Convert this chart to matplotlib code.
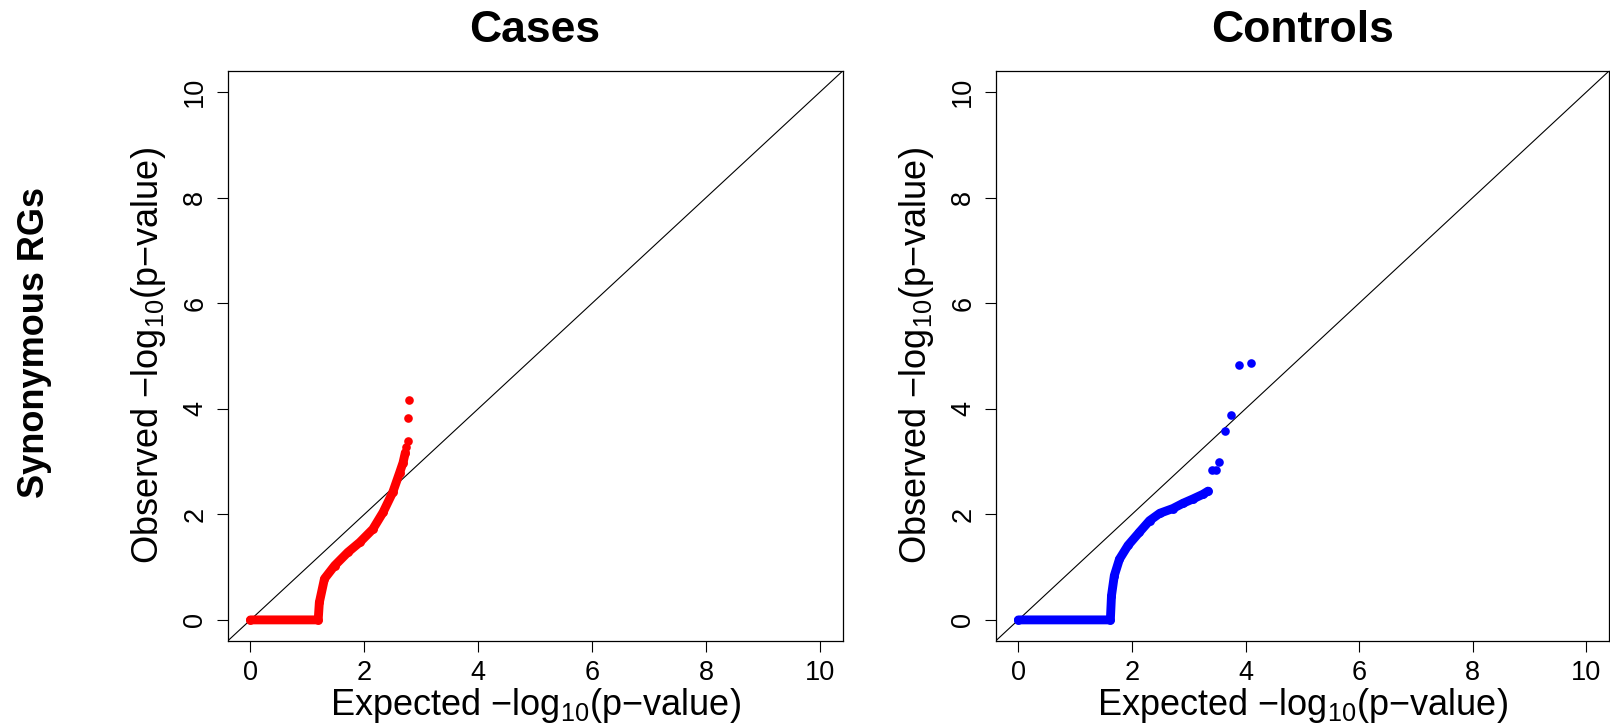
import matplotlib
matplotlib.use("Agg")
import matplotlib.pyplot as plt

plt.rcParams['font.family'] = ['Liberation Sans', 'DejaVu Sans']
plt.rcParams['mathtext.fontset'] = 'custom'
plt.rcParams['mathtext.rm'] = 'Liberation Sans'
plt.rcParams['mathtext.default'] = 'regular'

# QQ plot values: expected vs observed -log10(p)
# dense part of each curve (drawn as a thick band), then the sparse upper tail
cases_band_exp = [0.0, 1.19, 1.21, 1.30, 1.48, 1.71, 1.92, 2.15, 2.33, 2.50, 2.62, 2.68, 2.72]
cases_band_obs = [0.0, 0.0, 0.33, 0.78, 1.03, 1.28, 1.47, 1.72, 2.04, 2.42, 2.79, 2.98, 3.17]
cases_tail_exp = [2.74, 2.76, 2.77, 2.79]
cases_tail_obs = [3.27, 3.39, 3.82, 4.17]

controls_band_exp = [0.0, 1.62, 1.64, 1.69, 1.78, 1.93, 2.13, 2.31, 2.49, 2.72, 2.90, 3.07, 3.25, 3.34]
controls_band_obs = [0.0, 0.0, 0.46, 0.84, 1.15, 1.41, 1.66, 1.88, 2.02, 2.11, 2.21, 2.29, 2.38, 2.44]
controls_tail_exp = [3.41, 3.48, 3.53, 3.63, 3.74, 3.88, 4.10]
controls_tail_obs = [2.84, 2.84, 2.99, 3.58, 3.88, 4.83, 4.87]

titles = ['Cases', 'Controls']
colors = ['#FF0000', '#0000FF']
ticks = [0, 2, 4, 6, 8, 10]

fig = plt.figure(figsize=(16.1, 7.28), dpi=100)
ax1 = fig.add_axes([0.1414, 0.1195, 0.382, 0.783])
ax2 = fig.add_axes([0.6184, 0.1195, 0.381, 0.783])

panels = [
    (ax1, cases_band_exp, cases_band_obs, cases_tail_exp, cases_tail_obs),
    (ax2, controls_band_exp, controls_band_obs, controls_tail_exp, controls_tail_obs),
]

for i, (ax, bx, by, tx, ty) in enumerate(panels):
    ax.plot(bx, by, color=colors[i], lw=6.4, solid_capstyle='round',
            solid_joinstyle='round', zorder=3)
    ax.plot(bx, by, 'o', color=colors[i], ms=6.4, mec='none', zorder=3)
    ax.plot(tx, ty, 'o', color=colors[i], ms=6.2, mec='none', zorder=3)
    ax.axline((0, 0), slope=1, color='black', lw=0.8, zorder=2)
    ax.set_xlim(-0.4, 10.4)
    ax.set_ylim(-0.4, 10.4)
    ax.set_xticks(ticks)
    ax.set_yticks(ticks)
    ax.tick_params(length=8.0, width=0.8, labelsize=19.5, pad=6)
    for lab in ax.get_yticklabels():
        lab.set_rotation(90)
        lab.set_va('center')
    for s in ax.spines.values():
        s.set_linewidth(0.9)
    ax.set_xlabel('Expected \u2212log$_{10}$(p\u2212value)', fontsize=26, labelpad=0)
    ax.set_ylabel('Observed \u2212log$_{10}$(p\u2212value)', fontsize=26, labelpad=10)
    ax.text(0.5, 1 + 40 / 570, titles[i], transform=ax.transAxes, ha='center',
            va='center', fontsize=32, fontweight='bold')

fig.text(35 / 1610, 1 - 343 / 728, 'Synonymous RGs', rotation=90, ha='center',
         va='center', fontsize=26, fontweight='bold')

fig.savefig('out.png', dpi=100)
